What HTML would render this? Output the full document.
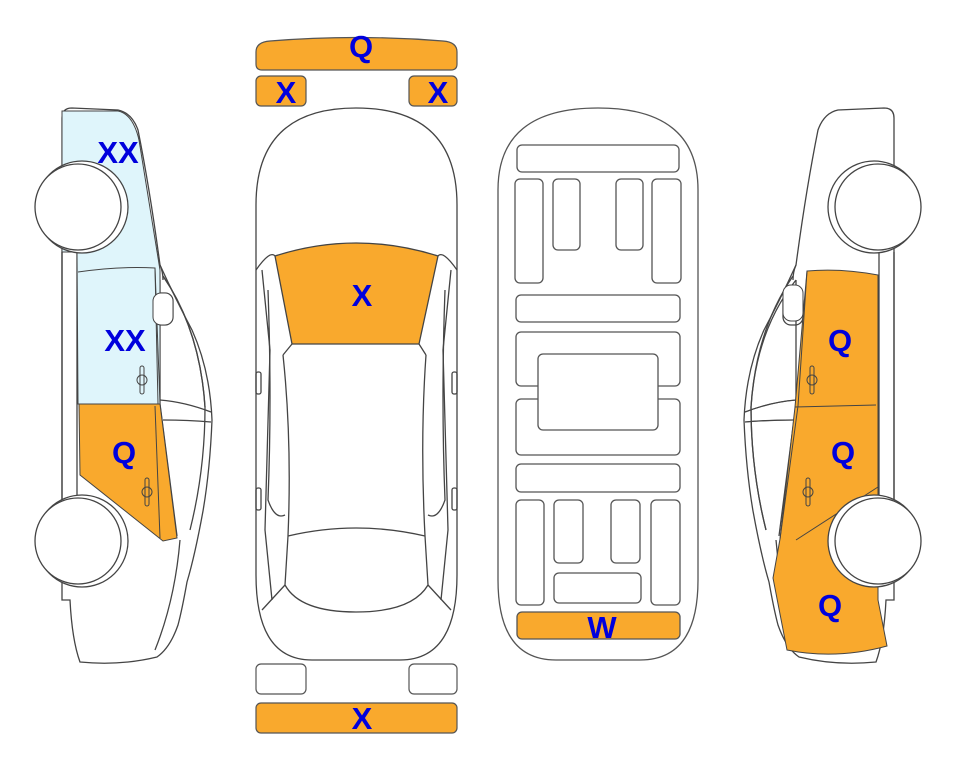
<!DOCTYPE html>
<html><head><meta charset="utf-8"><style>
html,body{margin:0;padding:0;background:#fff;}
svg{display:block;}
text{font-family:"Liberation Sans",sans-serif;font-weight:bold;fill:#0000dd;font-size:31px;text-anchor:middle;}
</style></head><body>
<svg width="963" height="768" viewBox="0 0 963 768" xmlns="http://www.w3.org/2000/svg">
<defs>
<g id="side" fill="none" stroke="#444" stroke-width="1.3">
  <path d="M62,118 Q62,108 72,108 L118,110 Q132,113 138,130 Q150,190 160,265 Q176,300 192,330 Q210,370 212,420 Q210,470 203,511 Q195,555 187,582 Q182,610 178,625 Q170,648 157,657 Q120,666 80,662 Q72,640 70,600 L62,600 Z" fill="#fff"/>
  <path d="M62,252 L62,503 M77,252 L77,503"/>
  <path d="M160,265 Q163,272 163,280"/>
  <path d="M163,276 Q200,330 205,407 Q205,470 190,530"/>
  <path d="M160,280 L160,404 L177,536"/>
  <path d="M160,400 Q185,402 211,412 M163,420 Q188,420 211,422"/>
  <rect x="153" y="293" width="20" height="32" rx="8"/>
  <path d="M180,540 Q175,600 155,650"/>
</g>
<g id="wheels">
  <circle cx="82" cy="207" r="46" fill="#fff" stroke="#444" stroke-width="1.3"/>
  <circle cx="82" cy="541" r="46" fill="#fff" stroke="#444" stroke-width="1.3"/>
  <circle cx="78" cy="207" r="43" fill="#fff" stroke="#444" stroke-width="1.3"/>
  <circle cx="78" cy="541" r="43" fill="#fff" stroke="#444" stroke-width="1.3"/>
</g>
</defs>

<!-- LEFT CAR -->
<g>
  <use href="#side"/>
  <path d="M62,111 L118,111 Q133,114 139,140 L160,270 L160,404 L78,404 L77,252 L62,252 Z" fill="#dff5fb" stroke="#444" stroke-width="1"/>
  <path d="M78,272 Q120,266 155,268 L160,404" fill="none" stroke="#444" stroke-width="1"/>
  <path d="M155,268 L158,404" fill="none" stroke="#444"/>
  <path d="M79,404 L160,404 L177,538 L163,541 L80,475 Z" fill="#f9a92d" stroke="#444" stroke-width="1"/>
  <path d="M155,406 L160,538" stroke="#444" fill="none"/>
  <path d="M163,276 Q200,330 205,407" fill="none" stroke="#444" stroke-width="1.3"/>
  <rect x="153" y="293" width="20" height="32" rx="8" fill="#fff" stroke="#444"/>
  <use href="#wheels"/>
  <g fill="none" stroke="#444"><rect x="140" y="366" width="4" height="28" rx="2"/><circle cx="142" cy="380" r="5"/><rect x="145" y="478" width="4" height="28" rx="2"/><circle cx="147" cy="492" r="5"/></g>
</g>

<!-- RIGHT CAR (mirrored) -->
<g transform="translate(956,0) scale(-1,1)">
  <use href="#side"/>
  <path d="M149,271 Q115,268 78,275 L78,600 L69,646 Q120,660 169,650 L183,578 L176,539 L161,407 Z" fill="#f9a92d" stroke="#444" stroke-width="1"/>
  <path d="M80,405 L161,407 M149,271 L158,406 L176,539" fill="none" stroke="#444"/>
  <path d="M78,487 L160,540" fill="none" stroke="#444"/>
  <path d="M160,280 Q200,330 205,407 Q205,470 190,530" fill="none" stroke="#444" stroke-width="1.3"/>
  <path d="M160,400 Q185,402 211,412 M163,420 Q188,420 211,422" fill="none" stroke="#444"/>
  <rect x="153" y="285" width="20" height="36" rx="8" fill="#fff" stroke="#444"/>
  <use href="#wheels"/>
  <g fill="none" stroke="#444"><rect x="142" y="366" width="4" height="28" rx="2"/><circle cx="144" cy="380" r="5"/><rect x="146" y="478" width="4" height="28" rx="2"/><circle cx="148" cy="492" r="5"/></g>
</g>

<!-- TOP VIEW -->
<g stroke="#444" stroke-width="1.3" fill="none">
  <path d="M256,205 Q256,108 356,108 Q457,108 457,205 L457,575 Q457,660 400,660 L312,660 Q256,660 256,575 Z" fill="#fff"/>
  <path d="M256,270 Q270,250 275,256 M457,270 Q443,250 438,256"/>
  <path d="M275,256 Q356,230 438,256 L419,344 L292,344 Z" fill="#f9a92d"/>
  <path d="M262,270 L270,350 L265,530 L272,600 M451,270 L443,350 L448,530 L441,600"/>
  <path d="M283,355 L292,344 M426,355 L419,344"/>
  <path d="M283,355 Q292,440 288,536 M426,355 Q420,440 425,536"/>
  <path d="M288,536 Q356,520 425,536"/>
  <path d="M288,536 L285,585 Q300,612 356,612 Q412,612 428,585 L425,536"/>
  <path d="M268,290 Q272,400 268,500 Q275,520 285,515 M445,290 Q441,400 445,500 Q438,520 428,515"/>
  <path d="M262,610 L285,585 M451,610 L428,585"/>
  <rect x="256" y="372" width="5" height="22" rx="2"/><rect x="452" y="372" width="5" height="22" rx="2"/>
  <rect x="256" y="488" width="5" height="22" rx="2"/><rect x="452" y="488" width="5" height="22" rx="2"/>
</g>

<g stroke="#555" stroke-width="1.2">
  <path d="M256,52 Q256,42 270,41 Q356,34 443,41 Q457,42 457,52 L457,64 Q457,70 451,70 L262,70 Q256,70 256,64 Z" fill="#f9a92d"/>
  <rect x="256" y="76" width="50" height="30" rx="5" fill="#f9a92d"/>
  <rect x="409" y="76" width="48" height="30" rx="5" fill="#f9a92d"/>
  <rect x="256" y="664" width="50" height="30" rx="5" fill="#fff"/>
  <rect x="409" y="664" width="48" height="30" rx="5" fill="#fff"/>
  <rect x="256" y="703" width="201" height="30" rx="5" fill="#f9a92d"/>
</g>

<!-- BOTTOM VIEW -->
<g stroke="#555" stroke-width="1.3" fill="#fff">
  <path d="M498,190 Q498,108 598,108 Q698,108 698,190 L698,580 Q698,660 640,660 L556,660 Q498,660 498,580 Z"/>
  <rect x="517" y="145" width="162" height="27" rx="5"/>
  <rect x="515" y="179" width="28" height="104" rx="5"/>
  <rect x="553" y="179" width="27" height="71" rx="5"/>
  <rect x="616" y="179" width="27" height="71" rx="5"/>
  <rect x="652" y="179" width="29" height="104" rx="5"/>
  <rect x="516" y="295" width="164" height="27" rx="5"/>
  <rect x="516" y="332" width="164" height="54" rx="5"/>
  <rect x="516" y="399" width="164" height="56" rx="5"/>
  <rect x="538" y="354" width="120" height="76" rx="5"/>
  <rect x="516" y="464" width="164" height="28" rx="5"/>
  <rect x="516" y="500" width="28" height="105" rx="5"/>
  <rect x="554" y="500" width="29" height="63" rx="5"/>
  <rect x="611" y="500" width="29" height="63" rx="5"/>
  <rect x="651" y="500" width="29" height="105" rx="5"/>
  <rect x="554" y="573" width="87" height="30" rx="5"/>
  <rect x="517" y="612" width="163" height="27" rx="5" fill="#f9a92d"/>
</g>

<text x="118" y="163">XX</text>
<text x="125" y="351">XX</text>
<text x="124" y="463">Q</text>
<text x="840" y="351">Q</text>
<text x="843" y="463">Q</text>
<text x="830" y="616">Q</text>
<text x="361" y="57">Q</text>
<text x="286" y="103">X</text>
<text x="438" y="103">X</text>
<text x="362" y="306">X</text>
<text x="602" y="638">W</text>
<text x="362" y="729">X</text>
</svg>
</body></html>
